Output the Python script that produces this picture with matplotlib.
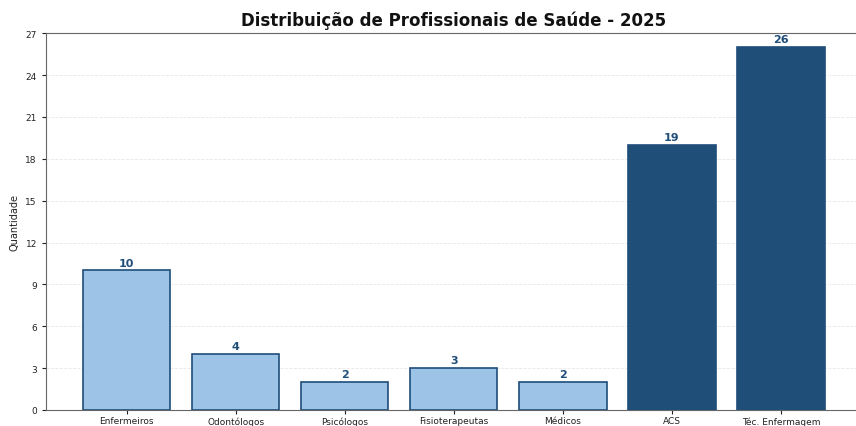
import matplotlib.pyplot as plt
import numpy as np

# ── Data ──────────────────────────────────────────────────────────────────────
categorias = ['Enfermeiros', 'Odontólogos', 'Psicólogos', 'Fisioterapeutas',
              'Médicos', 'ACS', 'Téc. Enfermagem']
quantidades = [10, 4, 2, 3, 2, 19, 26]
destaque = [False, False, False, False, False, True, True]

COR_CLARA = '#9dc3e6'
COR_ESCURA = '#1f4e79'

# ── Figure ────────────────────────────────────────────────────────────────────
fig = plt.figure(figsize=(8.56, 4.27), dpi=100)
ax = fig.add_axes([0.0537, 0.0375, 0.953, 0.8825])

cores = [COR_ESCURA if d else COR_CLARA for d in destaque]
bars = ax.bar(categorias, quantidades, width=0.8, color=cores,
              edgecolor=COR_ESCURA, linewidth=1.2, zorder=3)

for b, v in zip(bars, quantidades):
    ax.text(b.get_x() + b.get_width() / 2, v + 0.2, str(v),
            ha='center', va='bottom', fontsize=8, fontweight='bold',
            color=COR_ESCURA)

ax.set_ylim(0, 27)
ax.set_yticks(np.arange(0, 28, 3))
ax.set_ylabel('Quantidade', fontsize=7, color='#222222')
ax.set_title('Distribuição de Profissionais de Saúde - 2025',
             fontsize=12, fontweight='bold', pad=6, color='#111111')
ax.tick_params(axis='both', labelsize=6.5, colors='#222222', length=3)
ax.tick_params(axis='x', pad=1.5)
ax.yaxis.grid(True, linestyle='--', color='#dddddd', linewidth=0.6, alpha=0.7, zorder=0)
for s in ax.spines.values():
    s.set_color('#666666')

fig.savefig('out.png', dpi=100)
